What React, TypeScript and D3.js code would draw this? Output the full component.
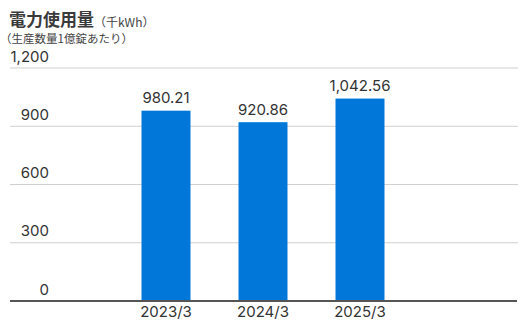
import React from "react";
import * as d3 from "d3";

const categories = ["2023/3", "2024/3", "2025/3"];
const values = [980.21, 920.86, 1042.56];
const valueLabels = ["980.21", "920.86", "1,042.56"];
const yTicks = [0, 300, 600, 900, 1200];
const yTickLabels = ["0", "300", "600", "900", "1,200"];
const title = "電力使用量";
const unit = "（千kWh）";
const subtitle = "（生産数量1億錠あたり）";

const W = 530;
const H = 325;
const FONT = "Inter, 'Noto Sans CJK JP', sans-serif";
const CJK = "'Noto Sans CJK JP', sans-serif";

export default function App() {
  const x = d3
    .scaleBand<string>()
    .domain(categories)
    .range([117.5, 408.5])
    .paddingInner(0.495)
    .paddingOuter(0.2475);
  const y = d3.scaleLinear().domain([0, 1200]).range([301, 68]);

  return (
    <svg
      width={W}
      height={H}
      style={{ position: "absolute", left: 0, top: 0, background: "#fff" }}
      fontFamily={FONT}
    >
      <text x={9} y={26} fontSize={17} fontWeight={700} fill="#3a3a3a" fontFamily={CJK}>
        {title}
      </text>
      <text x={94} y={26.5} fontSize={12} fill="#444" fontFamily={CJK}>
        {unit}
      </text>
      <text x={0} y={42.5} fontSize={11.5} fill="#444" fontFamily={CJK}>
        {subtitle}
      </text>

      {yTicks.map((t) =>
        t === 0 ? null : (
          <line key={"g" + t} x1={10} x2={518} y1={y(t)} y2={y(t)} stroke="#d0d0d0" strokeWidth={1} />
        )
      )}
      {yTicks.map((t, i) => (
        <text key={"t" + t} x={49} y={y(t) - 6.5} textAnchor="end" fontSize={15} fill="#333">
          {yTickLabels[i]}
        </text>
      ))}

      {categories.map((c, i) => (
        <rect
          key={c}
          x={x(c)}
          y={y(values[i])}
          width={x.bandwidth()}
          height={y(0) - y(values[i])}
          fill="#0077d9"
        />
      ))}
      {categories.map((c, i) => (
        <text
          key={"v" + c}
          x={(x(c) as number) + x.bandwidth() / 2}
          y={y(values[i]) - 7.5}
          textAnchor="middle"
          fontSize={15}
          fill="#333"
        >
          {valueLabels[i]}
        </text>
      ))}

      <line x1={10} x2={517} y1={y(0)} y2={y(0)} stroke="#555" strokeWidth={1.8} />

      {categories.map((c) => (
        <text
          key={"x" + c}
          x={(x(c) as number) + x.bandwidth() / 2}
          y={316.5}
          textAnchor="middle"
          fontSize={15}
          fill="#333"
        >
          {c}
        </text>
      ))}
    </svg>
  );
}
